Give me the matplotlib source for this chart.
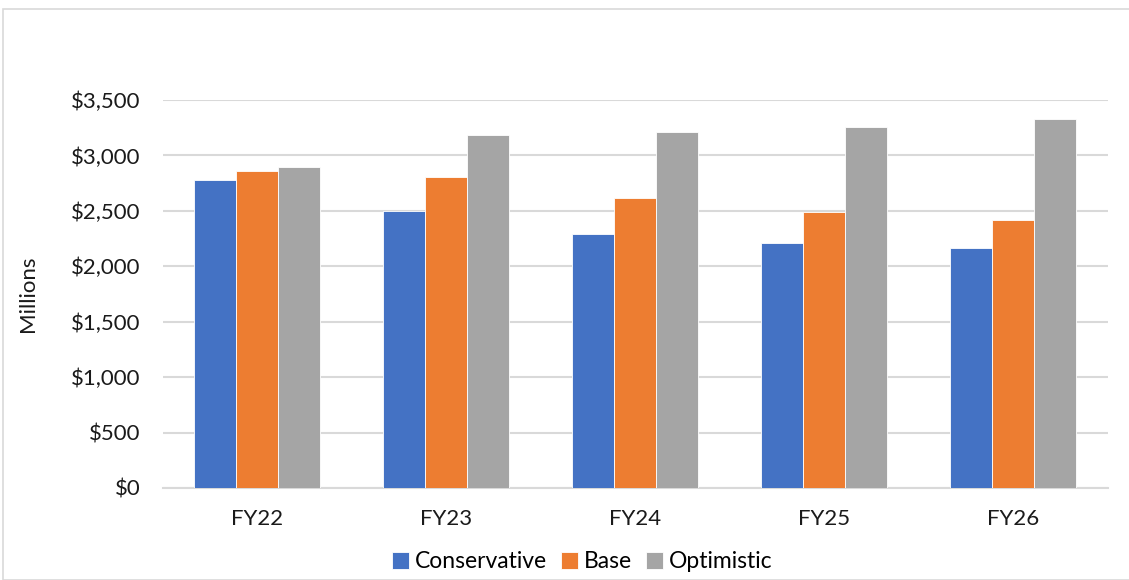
import matplotlib.pyplot as plt
import numpy as np
from matplotlib.patches import Rectangle
from matplotlib.ticker import FuncFormatter

# Data
years = ['FY22', 'FY23', 'FY24', 'FY25', 'FY26']
conservative = [2778, 2499, 2291, 2213, 2162]
base = [2863, 2805, 2619, 2490, 2415]
optimistic = [2896, 3182, 3209, 3256, 3326]

plt.rcParams['font.family'] = ['Lato', 'DejaVu Sans']

fig = plt.figure(figsize=(11.29, 5.8), dpi=100)
ax = fig.add_axes([162.5 / 1129, 1 - 488 / 580, 945 / 1129, 388 / 580])

# chart border
fig.patches.append(Rectangle((3 / 1129, 0), 1.2, 1 - 9 / 580, transform=fig.transFigure,
                             fill=False, edgecolor='#d9d9d9', linewidth=1.2))

x = np.arange(len(years))
w = 0.222
ax.bar(x - w, conservative, w, color='#4472c4', edgecolor='white', linewidth=0.6, label='Conservative', zorder=3)
ax.bar(x, base, w, color='#ed7d31', edgecolor='white', linewidth=0.6, label='Base', zorder=3)
ax.bar(x + w, optimistic, w, color='#a5a5a5', edgecolor='white', linewidth=0.6, label='Optimistic', zorder=3)

ax.set_xlim(-0.5, 4.5)
ax.set_ylim(0, 3500)
ax.set_yticks(np.arange(0, 3501, 500))
ax.yaxis.set_major_formatter(FuncFormatter(lambda v, p: f'${v:,.0f}'))
ax.set_xticks(x)
ax.set_xticklabels(years)
ax.grid(axis='y', color='#d9d9d9', linewidth=1.5, zorder=0)
ax.set_axisbelow(True)

for s in ['top', 'right', 'left']:
    ax.spines[s].set_visible(False)
ax.spines['bottom'].set_color('#d9d9d9')
ax.spines['bottom'].set_linewidth(1.5)
ax.tick_params(axis='both', length=0, labelsize=16, colors='#1a1a1a')
ax.tick_params(axis='x', pad=15)
ax.tick_params(axis='y', pad=16)

ax.set_ylabel('Millions', fontsize=16, color='#1a1a1a')
ax.yaxis.set_label_coords((38 - 162.5) / 945, 0.5)

ax.legend(loc='center', bbox_to_anchor=((582 - 162.5) / 945, -(562 - 488) / 388), ncol=3, frameon=False,
          fontsize=16.5, handlelength=0.75, handleheight=0.75, handletextpad=0.25, columnspacing=0.6)

fig.savefig('out.png', dpi=100)
